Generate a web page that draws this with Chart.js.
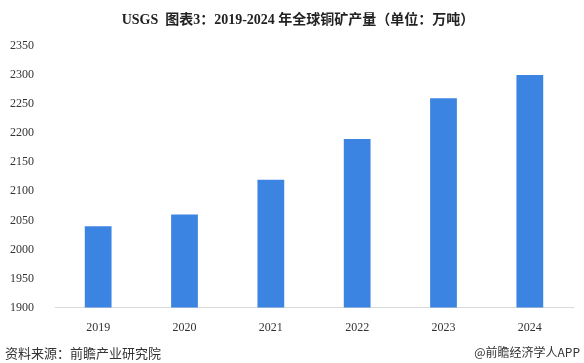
<!DOCTYPE html>
<html>
<head>
<meta charset="utf-8">
<script src="https://cdn.jsdelivr.net/npm/chart.js@4"></script>
<style>
  body { margin: 0; background: #fff; }
  #wrap { position: relative; width: 584px; height: 363px; overflow: hidden; }
  #title { position: absolute; left: 0; width: 596px; top: 8px; text-align: center;
    font: bold 14px "Liberation Serif", "Noto Sans CJK SC", serif; color: #222; }
  .foot { position: absolute; top: 343px; font: 13px "Noto Sans CJK SC", sans-serif; color: #333; }
</style>
</head>
<body>
<div id="wrap">
  <canvas id="copperChart"></canvas>
  <div id="title">USGS&nbsp; 图表3：2019-2024 年全球铜矿产量（单位：万吨）</div>
  <div class="foot" style="left:5px;">资料来源：前瞻产业研究院</div>
  <div class="foot" style="right:4px;font-size:12px;">@前瞻经济学人APP</div>
</div>
<script>
// categories and values (万吨)
const years = ['2019', '2020', '2021', '2022', '2023', '2024'];
const output = [2040, 2060, 2120, 2190, 2260, 2300];
const yMin = 1900;
const yMax = 2350;
const yStep = 50;

const ctx = document.getElementById('copperChart').getContext('2d');

new Chart(ctx, {
    type: 'bar',
    data: {
        labels: years,
        datasets: [{
            label: '全球铜矿产量',
            data: output,
            backgroundColor: '#3b84e2',
            categoryPercentage: 1,
            barPercentage: 0.31
        }]
    },
    options: {
        responsive: true,
        maintainAspectRatio: false,
        animation: false,
        layout: { padding: { top: 46, right: 11, bottom: 23, left: 0 } },
        plugins: {
            legend: { display: false },
            tooltip: { enabled: false }
        },
        scales: {
            x: {
                grid: { display: false },
                border: { color: '#d9d9d9', width: 1 },
                ticks: {
                    color: '#333',
                    padding: 5,
                    font: { family: 'Liberation Serif', size: 12 }
                }
            },
            y: {
                min: yMin,
                max: yMax,
                grid: { display: false },
                border: { display: false },
                afterFit: function (scale) { scale.width = 55; },
                ticks: {
                    stepSize: yStep,
                    color: '#333',
                    padding: 13,
                    font: { family: 'Liberation Serif', size: 12 },
                    callback: function (v) { return String(v); }
                }
            }
        }
    }
});
</script>
</body>
</html>
